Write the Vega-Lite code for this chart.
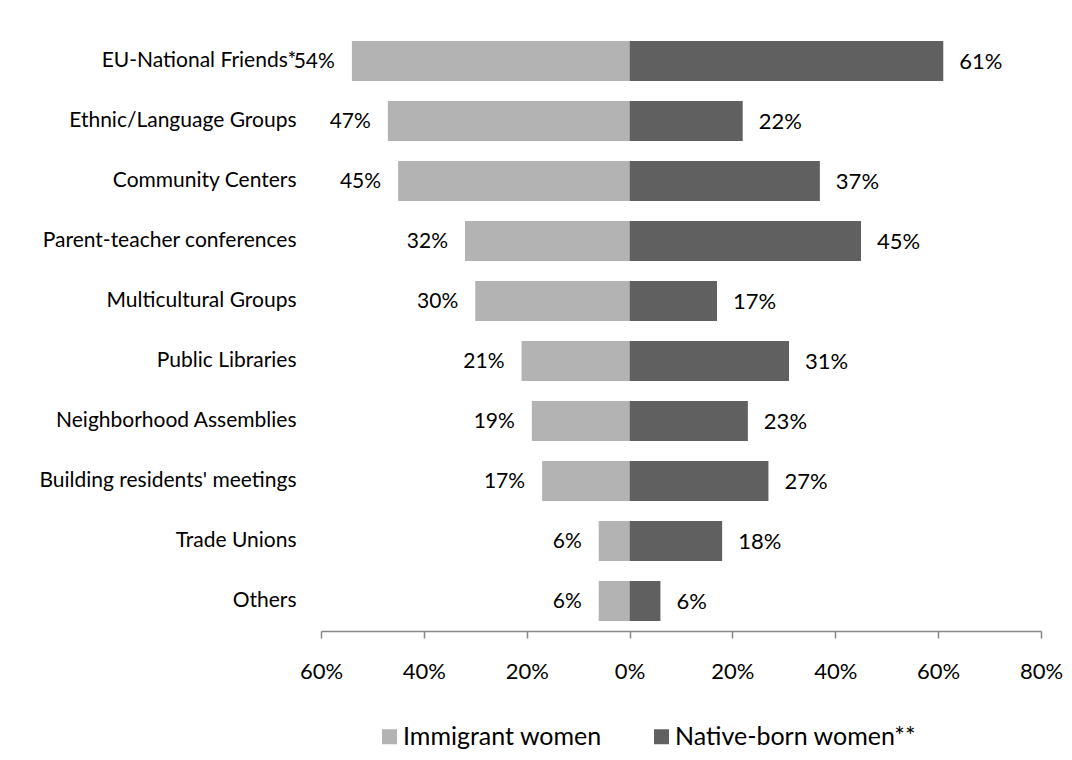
{
  "$schema": "https://vega.github.io/schema/vega-lite/v6.json",
  "width": 720,
  "height": 600,
  "autosize": "none",
  "padding": {"left": 321, "top": 31, "right": 31, "bottom": 129},
  "background": "white",
  "config": {
    "view": {"stroke": null},
    "font": "Lato",
    "text": {"font": "Lato"}
  },
  "data": {
    "values": [
      {"category": "EU-National Friends*", "group": "Immigrant women", "value": -54},
      {"category": "EU-National Friends*", "group": "Native-born women**", "value": 61},
      {"category": "Ethnic/Language Groups", "group": "Immigrant women", "value": -47},
      {"category": "Ethnic/Language Groups", "group": "Native-born women**", "value": 22},
      {"category": "Community Centers", "group": "Immigrant women", "value": -45},
      {"category": "Community Centers", "group": "Native-born women**", "value": 37},
      {"category": "Parent-teacher conferences", "group": "Immigrant women", "value": -32},
      {"category": "Parent-teacher conferences", "group": "Native-born women**", "value": 45},
      {"category": "Multicultural Groups", "group": "Immigrant women", "value": -30},
      {"category": "Multicultural Groups", "group": "Native-born women**", "value": 17},
      {"category": "Public Libraries", "group": "Immigrant women", "value": -21},
      {"category": "Public Libraries", "group": "Native-born women**", "value": 31},
      {"category": "Neighborhood Assemblies", "group": "Immigrant women", "value": -19},
      {"category": "Neighborhood Assemblies", "group": "Native-born women**", "value": 23},
      {"category": "Building residents' meetings", "group": "Immigrant women", "value": -17},
      {"category": "Building residents' meetings", "group": "Native-born women**", "value": 27},
      {"category": "Trade Unions", "group": "Immigrant women", "value": -6},
      {"category": "Trade Unions", "group": "Native-born women**", "value": 18},
      {"category": "Others", "group": "Immigrant women", "value": -6},
      {"category": "Others", "group": "Native-born women**", "value": 6}
    ]
  },
  "encoding": {
    "y": {
      "field": "category",
      "type": "nominal",
      "sort": ["EU-National Friends*", "Ethnic/Language Groups", "Community Centers", "Parent-teacher conferences", "Multicultural Groups", "Public Libraries", "Neighborhood Assemblies", "Building residents' meetings", "Trade Unions", "Others"],
      "scale": {"paddingInner": 0.333, "paddingOuter": 0.167},
      "axis": {
        "title": null,
        "domain": false,
        "ticks": false,
        "labelPadding": 25,
        "labelFontSize": 21,
        "labelColor": "#000000",
        "labelLimit": 400,
        "labelFont": "Lato"
      }
    }
  },
  "layer": [
    {
      "mark": {"type": "bar"},
      "encoding": {
        "x": {
          "field": "value",
          "type": "quantitative",
          "scale": {"domain": [-60, 80], "nice": false, "zero": false},
          "axis": {
            "title": null,
            "grid": false,
            "values": [-60, -40, -20, 0, 20, 40, 60, 80],
            "labelExpr": "abs(datum.value) + '%'",
            "domainColor": "#868686",
            "domainWidth": 1.5,
            "tickColor": "#868686",
            "tickWidth": 1.5,
            "tickSize": 7,
            "labelFontSize": 22,
            "labelColor": "#000000",
            "labelPadding": 23,
            "labelFlush": false,
            "labelOverlap": false,
            "labelFont": "Lato"
          }
        },
        "color": {
          "field": "group",
          "type": "nominal",
          "scale": {"domain": ["Immigrant women", "Native-born women**"], "range": ["#b3b3b3", "#606060"]},
          "legend": {
            "title": null,
            "orient": "none",
            "direction": "horizontal",
            "legendX": 56,
            "legendY": 693,
            "symbolType": "square",
            "symbolSize": 225,
            "symbolStrokeWidth": 0,
            "symbolOpacity": 1,
            "labelFontSize": 25,
            "labelColor": "#000000",
            "labelFont": "Lato",
            "labelOffset": 1,
            "columnPadding": 47,
            "labelLimit": 400
          }
        }
      }
    },
    {
      "mark": {"type": "rule", "color": "#868686", "strokeWidth": 1.5},
      "encoding": {"x": {"datum": 0, "type": "quantitative"}}
    },
    {
      "transform": [{"filter": "datum.value < 0"}],
      "mark": {"type": "text", "align": "right", "baseline": "middle", "dx": -17, "dy": 1, "fontSize": 21, "color": "#000000", "font": "Lato", "text": {"expr": "abs(datum.value) + '%'"}},
      "encoding": {"x": {"field": "value", "type": "quantitative"}}
    },
    {
      "transform": [{"filter": "datum.value > 0"}],
      "mark": {"type": "text", "align": "left", "baseline": "middle", "dx": 16, "dy": 1, "fontSize": 22, "color": "#000000", "font": "Lato", "text": {"expr": "abs(datum.value) + '%'"}},
      "encoding": {"x": {"field": "value", "type": "quantitative"}}
    }
  ]
}
